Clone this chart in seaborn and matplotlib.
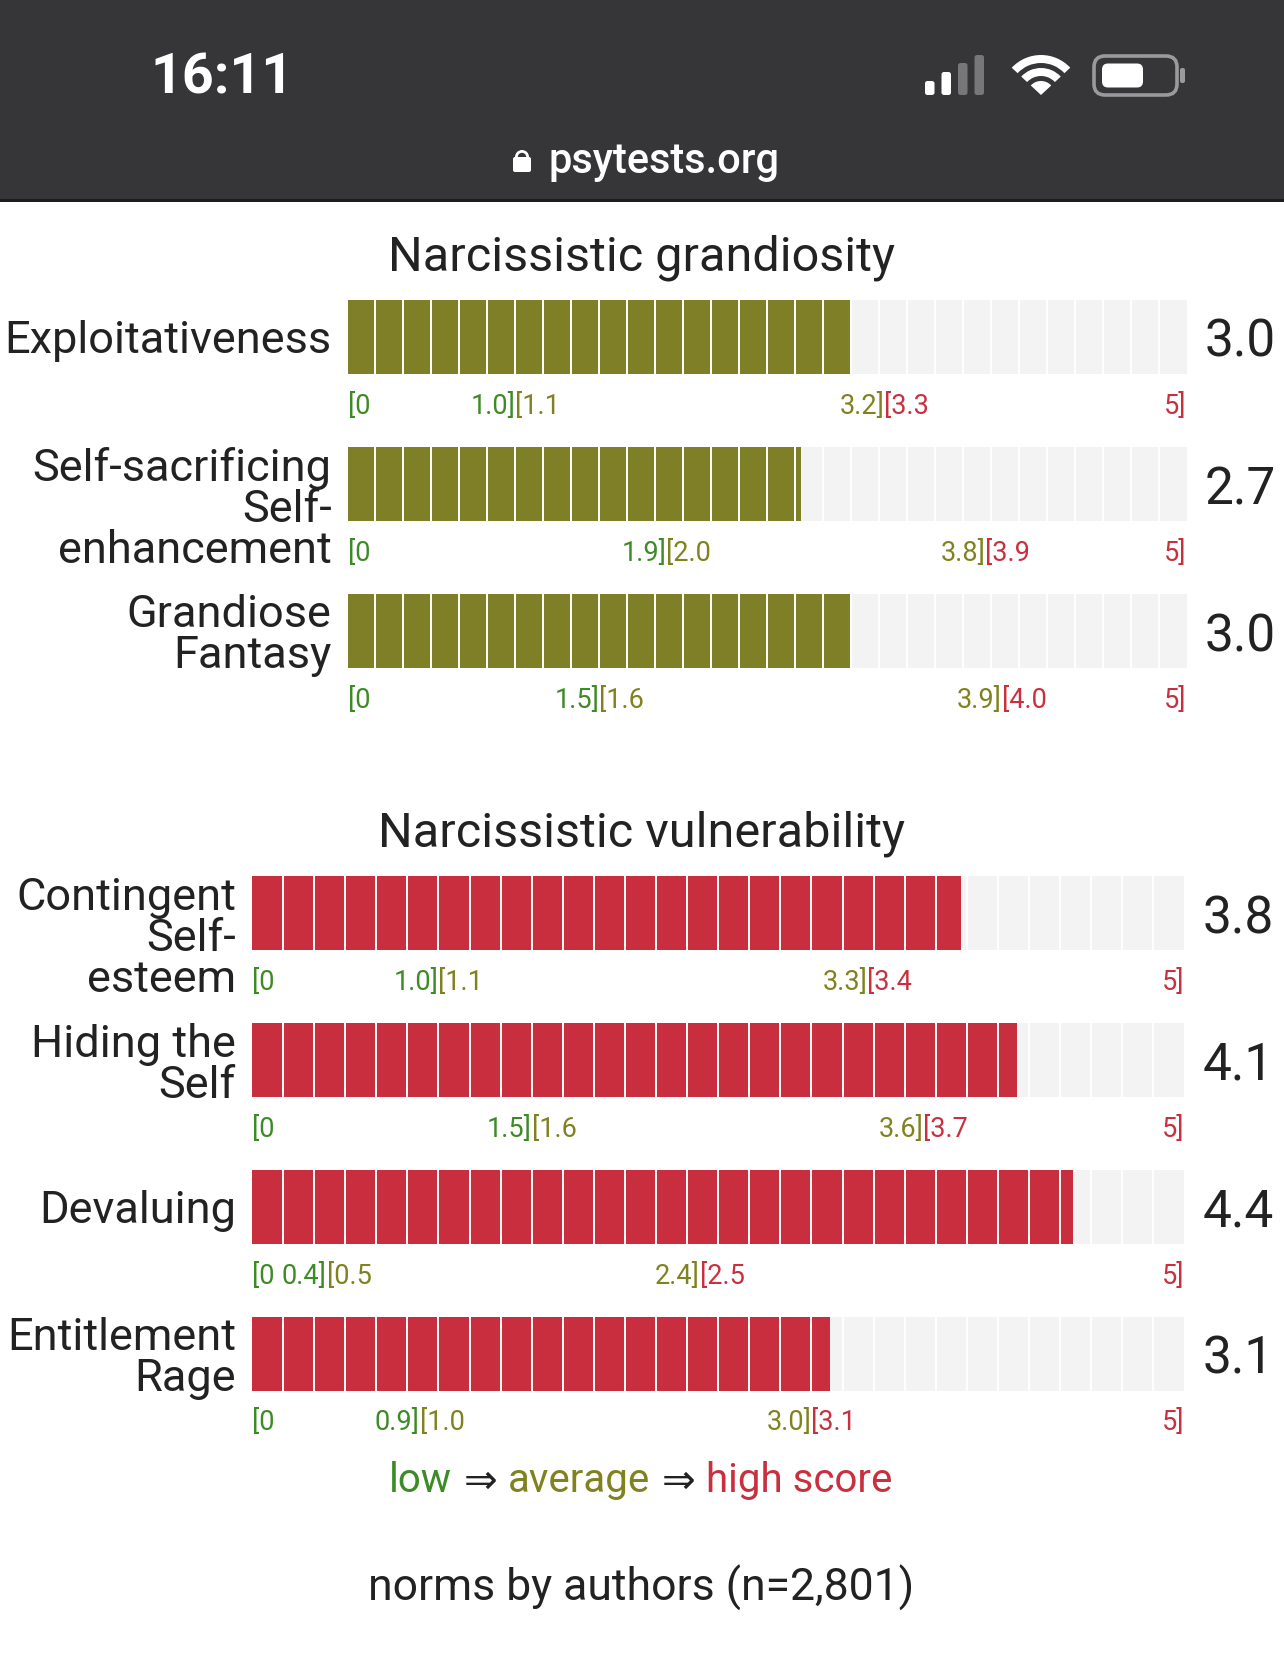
import matplotlib.pyplot as plt
import numpy as np
import pandas as pd
import seaborn as sns
from matplotlib.patches import Rectangle, FancyBboxPatch, Wedge
from matplotlib.transforms import offset_copy
from matplotlib.offsetbox import TextArea, HPacker, AnchoredOffsetbox

# scale names, scores and norm boundaries
grand_scales = ['Exploitativeness', 'Self-sacrificing\nSelf-\nenhancement', 'Grandiose\nFantasy']
grand_scores = [3.0, 2.7, 3.0]
grand_low_hi = ['1.0', '1.9', '1.5']
grand_avg_lo = ['1.1', '2.0', '1.6']
grand_avg_hi = ['3.2', '3.8', '3.9']
grand_high_lo = ['3.3', '3.9', '4.0']

vuln_scales = ['Contingent\nSelf-\nesteem', 'Hiding the\nSelf', 'Devaluing', 'Entitlement\nRage']
vuln_scores = [3.8, 4.1, 4.4, 3.1]
vuln_low_hi = ['1.0', '1.5', '0.4', '0.9']
vuln_avg_lo = ['1.1', '1.6', '0.5', '1.0']
vuln_avg_hi = ['3.3', '3.6', '2.4', '3.0']
vuln_high_lo = ['3.4', '3.7', '2.5', '3.1']

SCALE_MAX = 5
N_SEGMENTS = 30

GREEN = '#3d8b26'
OLIVE = '#80821f'
RED = '#c9303f'
BAR_OLIVE = '#7f7f28'
BAR_RED = '#c92e3f'
EMPTY = '#f3f3f3'
TEXT = '#222222'

sns.set_style('white')
plt.rcParams['font.family'] = ['Roboto', 'DejaVu Sans']

W, H = 1284, 1661
fig = plt.figure(figsize=(W / 100, H / 100), dpi=100)


def px_rect(x0, y0, x1, y1):
    return [x0 / W, 1 - y1 / H, (x1 - x0) / W, (y1 - y0) / H]


# background layer in pixel coordinates (phone status bar, titles)
bg = fig.add_axes([0, 0, 1, 1])
bg.set_xlim(0, W)
bg.set_ylim(H, 0)
bg.axis('off')

bg.add_patch(Rectangle((0, 0), W, 201, color='#363638', lw=0))
bg.add_patch(Rectangle((0, 199), W, 3, color='#1c1c1e', lw=0))
bg.text(222, 79, '16:11', color='white', fontsize=40, fontweight='bold',
        ha='center', va='center')
bg.text(664, 162, 'psytests.org', color='white', fontsize=30, fontweight='medium',
        ha='center', va='center')
# lock
bg.add_patch(FancyBboxPatch((513, 157), 18, 15, boxstyle='round,pad=0,rounding_size=2',
                            color='white', lw=0))
bg.add_patch(Wedge((522, 157), 7, 180, 360, width=2.8, color='white', lw=0))
# signal bars
for k, (h, c) in enumerate(zip([14, 23, 32, 40], ['white', 'white', '#77777a', '#77777a'])):
    bg.add_patch(FancyBboxPatch((925 + k * 16.5, 95 - h), 9.5, h,
                                boxstyle='round,pad=0,rounding_size=2.5', color=c, lw=0))
# wifi
for r, wd in [(40, 8), (27, 8)]:
    bg.add_patch(Wedge((1041, 95), r, 223, 317, width=wd, color='white', lw=0))
bg.add_patch(Wedge((1041, 95), 14, 223, 317, color='white', lw=0))
# battery
bg.add_patch(FancyBboxPatch((1094, 56), 83, 39, boxstyle='round,pad=0,rounding_size=11',
                            fc='none', ec='#9a9a9c', lw=2.6))
bg.add_patch(FancyBboxPatch((1102, 63.5), 41, 24, boxstyle='round,pad=0,rounding_size=6',
                            color='white', lw=0))
bg.add_patch(FancyBboxPatch((1180, 68), 5, 15, boxstyle='round,pad=0,rounding_size=2',
                            color='#9a9a9c', lw=0))

bg.text(641, 258, 'Narcissistic grandiosity', color=TEXT, fontsize=35,
        ha='center', va='center')
bg.text(641, 834, 'Narcissistic vulnerability', color=TEXT, fontsize=35,
        ha='center', va='center')
bg.text(641, 1588, 'norms by authors (n=2,801)', color=TEXT, fontsize=32,
        ha='center', va='center')


def draw_section(rect, scales, scores, low_hi, avg_lo, avg_hi, high_lo, color):
    ax = fig.add_axes(rect)
    n = len(scales)
    df = pd.DataFrame({'scale': scales, 'score': scores, 'full': [SCALE_MAX] * n})
    bar_h = 0.503
    sns.barplot(data=df, x='full', y='scale', orient='h', color=EMPTY, saturation=1,
                width=bar_h, errorbar=None, linewidth=0, ax=ax)
    sns.barplot(data=df, x='score', y='scale', orient='h', color=color, saturation=1,
                width=bar_h, errorbar=None, linewidth=0, ax=ax)
    ax.set_xlim(0, SCALE_MAX)
    ax.set_ylim(n - 0.5, -0.5)
    ax.axis('off')

    seps = np.arange(1, N_SEGMENTS) * SCALE_MAX / N_SEGMENTS
    lab_tr = offset_copy(ax.get_yaxis_transform(), fig=fig, x=-16, units='dots')
    val_tr = offset_copy(ax.get_yaxis_transform(), fig=fig, x=18, units='dots')
    fs = 19.5
    for i in range(n):
        ax.vlines(seps, i - bar_h / 2, i + bar_h / 2, color='white', lw=1.4, zorder=3)
        nlines = scales[i].count('\n') + 1
        dy = 0.175 if nlines >= 3 else 0.03
        ax.text(0, i + dy, scales[i], transform=lab_tr, ha='right', va='center',
                fontsize=32.5, color=TEXT, linespacing=0.97)
        ax.text(1, i + 0.04, f'{scores[i]:.1f}', transform=val_tr, ha='left', va='center',
                fontsize=37, color=TEXT)
        y = i + 0.47
        a, b = float(low_hi[i]), float(avg_hi[i])
        ax.text(0, y, '[0', ha='left', va='center', fontsize=fs, color=GREEN)
        ax.text(a, y, f'{low_hi[i]}]', ha='right', va='center', fontsize=fs, color=GREEN)
        ax.text(a, y, f'[{avg_lo[i]}', ha='left', va='center', fontsize=fs, color=OLIVE)
        ax.text(b, y, f'{avg_hi[i]}]', ha='right', va='center', fontsize=fs, color=OLIVE)
        ax.text(b, y, f'[{high_lo[i]}', ha='left', va='center', fontsize=fs, color=RED)
        ax.text(SCALE_MAX, y, f'{SCALE_MAX}]', ha='right', va='center', fontsize=fs, color=RED)
    return ax


draw_section(px_rect(347.5, 263.4, 1186.5, 705.0), grand_scales, grand_scores,
             grand_low_hi, grand_avg_lo, grand_avg_hi, grand_high_lo, BAR_OLIVE)
draw_section(px_rect(252.0, 839.75, 1184.4, 1427.35), vuln_scales, vuln_scores,
             vuln_low_hi, vuln_avg_lo, vuln_avg_hi, vuln_high_lo, BAR_RED)

# colour legend
parts = [('low', GREEN), ('⇒', TEXT), ('average', OLIVE), ('⇒', TEXT), ('high score', RED)]
pack = HPacker(children=[TextArea(t, textprops=dict(color=c, fontsize=29)) for t, c in parts],
               sep=8, pad=0, align='baseline')
box = AnchoredOffsetbox(loc='center', child=pack, pad=0, borderpad=0, frameon=False,
                        bbox_to_anchor=(641 / W, 1 - 1481 / H), bbox_transform=fig.transFigure)
bg.add_artist(box)

fig.savefig('out.png', dpi=100)
